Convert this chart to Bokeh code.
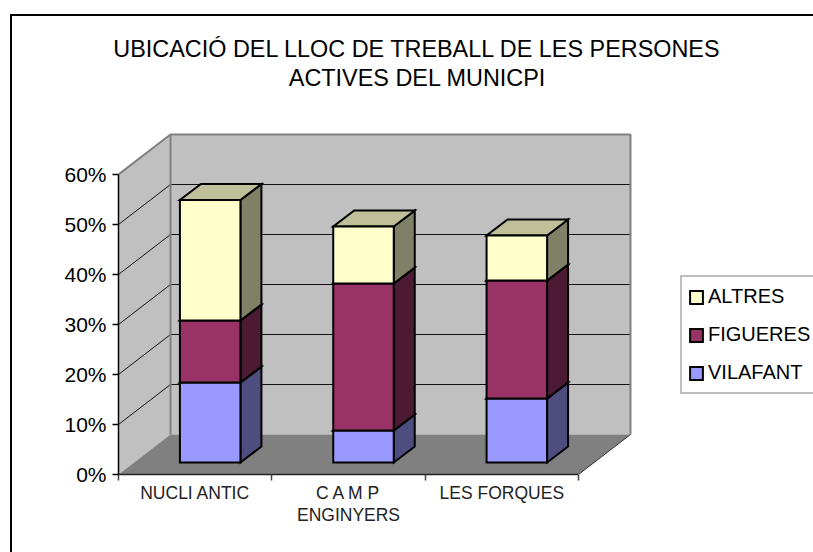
from bokeh.plotting import figure
from bokeh.models import (Range1d, FixedTicker, Legend, LegendItem, Label)
from bokeh.embed import file_html
from bokeh.resources import INLINE

# ---- data ----
categories = ["NUCLI ANTIC", "C A M P\nENGINYERS", "LES FORQUES"]
vilafant = [16.0, 6.4, 12.8]
figueres = [12.4, 29.4, 23.6]
altres = [24.1, 11.4, 9.0]
y_ticks = [0, 10, 20, 30, 40, 50, 60]
series_names = ["VILAFANT", "FIGUERES", "ALTRES"]

# ---- styles ----
front = ["#9999FF", "#993366", "#FFFFCC"]
side = ["#4D4D80", "#4D1A33", "#808066"]
top = ["#BFBF99", "#BFBF99", "#BFBF99"]
FONT = "Liberation Sans"

# ---- geometry ----
PX_X = 153.33   # px per category
PX_Y = 5.0      # px per percent
FW, FH = 515, 342
DX = 52 / PX_X  # wall depth in data units
DY = 40 / PX_Y
BAR_W = 60.5 / PX_X
BAR_DX = 21 / PX_X
BAR_DY = 16 / PX_Y
BASE_DX = 15 / PX_X
BASE_DY = 12 / PX_Y

p = figure(width=801, height=536, frame_width=FW, frame_height=FH,
           output_backend="svg", toolbar_location=None,
           x_range=Range1d(0.5, 0.5 + FW / PX_X), y_range=Range1d(0, FH / PX_Y),
           min_border_left=106, min_border_right=180, min_border_top=116, min_border_bottom=78)
p.styles = {"margin-left": "10px", "margin-top": "14px",
            "border-left": "2px solid black", "border-top": "2px solid black"}
p.xgrid.visible = False
p.ygrid.visible = False
p.outline_line_color = None
p.background_fill_color = "white"

x0, x1 = 0.5, 3.5
ymax = y_ticks[-1]

# walls and floor
p.patch([x0, x0 + DX, x0 + DX, x0], [0, DY, ymax + DY, ymax], fill_color="#C0C0C0", line_color=None)
p.patch([x0 + DX, x1 + DX, x1 + DX, x0 + DX], [DY, DY, ymax + DY, ymax + DY], fill_color="#C0C0C0", line_color=None)
p.patch([x0, x1, x1 + DX, x0 + DX], [0, 0, DY, DY], fill_color="#808080", line_color=None)

# grid lines
for t in y_ticks[1:-1]:
    p.line([x0, x0 + DX, x1 + DX], [t, t + DY, t + DY], line_color="#111111", line_width=1)
p.line([x0, x0 + DX, x1 + DX, x1 + DX], [ymax, ymax + DY, ymax + DY, DY], line_color="#808080", line_width=2)
p.line([x0 + DX, x0 + DX], [DY, ymax + DY], line_color="#808080", line_width=2)
p.line([x1, x1 + DX], [0, DY], line_color="#333333", line_width=1)

# stacked bars
legend_refs = {}
bottoms = [BASE_DY] * len(categories)
centres = [i + 1 + BASE_DX for i in range(len(categories))]
for s, vals in enumerate([vilafant, figueres, altres]):
    fx, fy, sx, sy, tx, ty = [], [], [], [], [], []
    for c, b, v in zip(centres, bottoms, vals):
        l, r, t = c - BAR_W / 2, c + BAR_W / 2, b + v
        fx.append([l, r, r, l]); fy.append([b, b, t, t])
        sx.append([r, r + BAR_DX, r + BAR_DX, r]); sy.append([b, b + BAR_DY, t + BAR_DY, t])
        tx.append([l, r, r + BAR_DX, l + BAR_DX]); ty.append([t, t, t + BAR_DY, t + BAR_DY])
    kw = dict(line_color="black", line_width=2, line_join="miter")
    p.patches(sx, sy, fill_color=side[s], **kw)
    p.patches(tx, ty, fill_color=top[s], **kw)
    legend_refs[series_names[s]] = p.patches(fx, fy, fill_color=front[s], **kw)
    bottoms = [b + v for b, v in zip(bottoms, vals)]

# axes
ya = p.yaxis[0]
ya.ticker = FixedTicker(ticks=y_ticks)
ya.major_label_overrides = {t: f"{t}%" for t in y_ticks}
ya.bounds = (0, ymax)
ya.axis_line_color = "black"; ya.axis_line_width = 1.5
ya.major_tick_line_color = "black"; ya.major_tick_line_width = 1.5
ya.major_tick_out = 6; ya.major_tick_in = 0
ya.minor_tick_out = 0; ya.minor_tick_in = 0
ya.major_label_text_font = FONT; ya.major_label_text_font_size = "21px"
ya.major_label_text_color = "black"; ya.major_label_standoff = 6

xa = p.xaxis[0]
ticks = [i + 1 for i in range(len(categories))]
xa.ticker = FixedTicker(ticks=ticks, minor_ticks=[i + 0.5 for i in range(len(categories) + 1)])
xa.major_label_overrides = {t: c for t, c in zip(ticks, categories)}
xa.bounds = (x0, x1)
xa.axis_line_color = "#222222"; xa.axis_line_width = 1.5
xa.major_tick_out = 0; xa.major_tick_in = 0
xa.minor_tick_line_color = "#444444"; xa.minor_tick_line_width = 1.5
xa.minor_tick_out = 6; xa.minor_tick_in = 0
xa.major_label_text_font = FONT; xa.major_label_text_font_size = "17.5px"
xa.major_label_text_line_height = 1.14
xa.major_label_text_color = "#222222"; xa.major_label_standoff = 2

# legend
legend = Legend(items=[LegendItem(label=n, renderers=[legend_refs[n]]) for n in reversed(series_names)],
                location=(47, 80), orientation="vertical", margin=0, padding=6, spacing=11,
                glyph_width=16, glyph_height=16, label_width=112, label_height=27, label_standoff=4,
                label_text_font=FONT, label_text_font_size="20px", label_text_color="black",
                border_line_color="#808080", border_line_width=2, background_fill_color="white",
                background_fill_alpha=1)
p.add_layout(legend, "right")

# title
title = Label(x=417 - 118, y=69, x_units="screen", y_units="screen",
              text="UBICACIÓ DEL LLOC DE TREBALL DE LES PERSONES\nACTIVES DEL MUNICPI",
              text_font=FONT, text_font_size="23.4px", text_color="black",
              text_align="center", text_baseline="middle", text_line_height=1.12)
p.add_layout(title, "above")

open("out.html", "w").write(file_html(p, INLINE))
